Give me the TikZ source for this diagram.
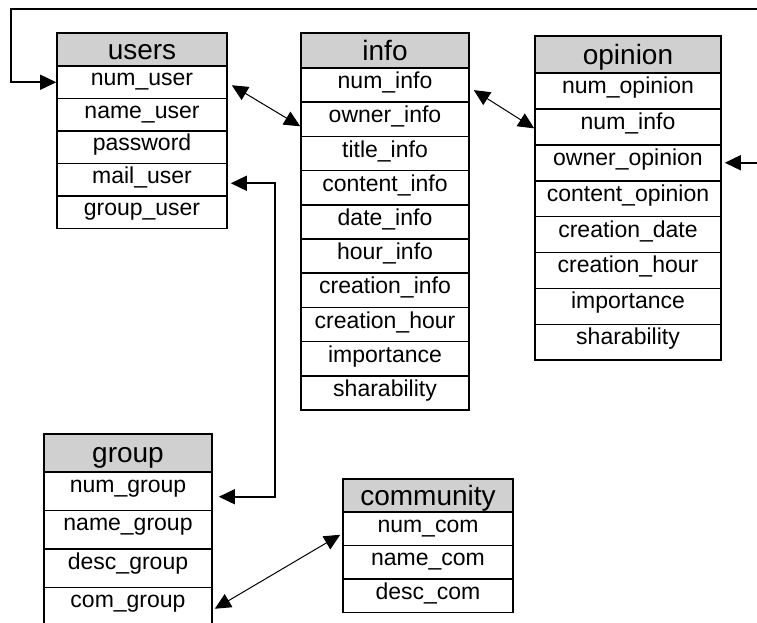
\documentclass[tikz,border=0pt]{standalone}
\usepackage{fontspec}
\setmainfont{Liberation Sans}
\usepackage{tikz}
\usetikzlibrary{arrows.meta}
\definecolor{hdrgray}{RGB}{208,208,208}
\newcommand{\headfont}{\fontsize{28}{30}\selectfont}
\newcommand{\fieldfont}{\fontsize{23}{26}\selectfont}

\begin{document}
\begin{tikzpicture}[x=1pt,y=-1pt]
\tikzstyle{head}=[draw,fill=hdrgray,line width=1.6pt,inner sep=0pt,font=\headfont,text height=20pt,text depth=1pt]
\tikzstyle{field}=[draw,fill=white,line width=1.6pt,inner sep=0pt,font=\fieldfont,text height=16pt,text depth=9pt]
\tikzstyle{link}=[line width=1.6pt,{Triangle[length=16pt,width=15pt]}-{Triangle[length=16pt,width=15pt]}]
\tikzstyle{rel}=[line width=1pt,{Triangle[length=16pt,width=15pt]}-{Triangle[length=16pt,width=15pt]}]
\useasboundingbox (0,0) rectangle (757,622);
\clip (0,0) rectangle (757,622);
% users
\node[head,minimum width=170,minimum height=33] (users) at (142,49.5) {users};
\foreach \i/\f in {
	1/num\_user,
	2/name\_user,
	3/password,
	4/mail\_user,
	5/group\_user}
	\node[field,minimum width=170,minimum height=32.5] (users\i) at (142,{66+(\i-0.5)*32.5}) {\f};
% info
\node[head,minimum width=168,minimum height=35] (info) at (385,50.5) {info};
\foreach \i/\f in {
	1/num\_info,
	2/owner\_info,
	3/title\_info,
	4/content\_info,
	5/date\_info,
	6/hour\_info,
	7/creation\_info,
	8/creation\_hour,
	9/importance,
	10/sharability}
	\node[field,minimum width=168,minimum height=34.2] (info\i) at (385,{68+(\i-0.5)*34.2}) {\f};
% opinion
\node[head,minimum width=186,minimum height=37] (opinion) at (628,54.5) {opinion};
\foreach \i/\f in {
	1/num\_opinion,
	2/num\_info,
	3/owner\_opinion,
	4/content\_opinion,
	5/creation\_date,
	6/creation\_hour,
	7/importance,
	8/sharability}
	\node[field,text depth=11pt,minimum width=186,minimum height=35.9] (opinion\i) at (628,{73+(\i-0.5)*35.9}) {\f};
% group
\node[head,minimum width=168,minimum height=38] (group) at (128,453) {group};
\foreach \i/\f in {
	1/num\_group,
	2/name\_group,
	3/desc\_group,
	4/com\_group}
	\node[field,text depth=14pt,minimum width=168,minimum height=38.5] (group\i) at (128,{472+(\i-0.5)*38.5}) {\f};
% community
\node[head,minimum width=170,minimum height=33] (community) at (428,495.5) {community};
\foreach \i/\f in {
	1/num\_com,
	2/name\_com,
	3/desc\_com}
	\node[field,minimum width=170,minimum height=33.5] (community\i) at (428,{512+(\i-0.5)*33.5}) {\f};
% links
\coordinate (loopL) at (11,9);
\coordinate (loopR) at (780,9);
\coordinate (mailbend) at (275,340);
\draw[link] (users1.west) -| (loopL) -- (loopR) |- ([shift={(3,0)}]opinion3.east);
\draw[link] ([shift={(3,3.5)}]users4.east) -| (mailbend) |- ([shift={(6,5.5)}]group1.east);
\draw[rel] ([shift={(4,3)}]users1.east) -- ([shift={(0,7)}]info2.west);
\draw[rel] ([shift={(4,5)}]info1.east) -- ([shift={(0,1.5)}]opinion2.west);
\draw[rel] ([shift={(2,2)}]group4.east) -- ([shift={(-2,6)}]community1.west);
\end{tikzpicture}
\end{document}
